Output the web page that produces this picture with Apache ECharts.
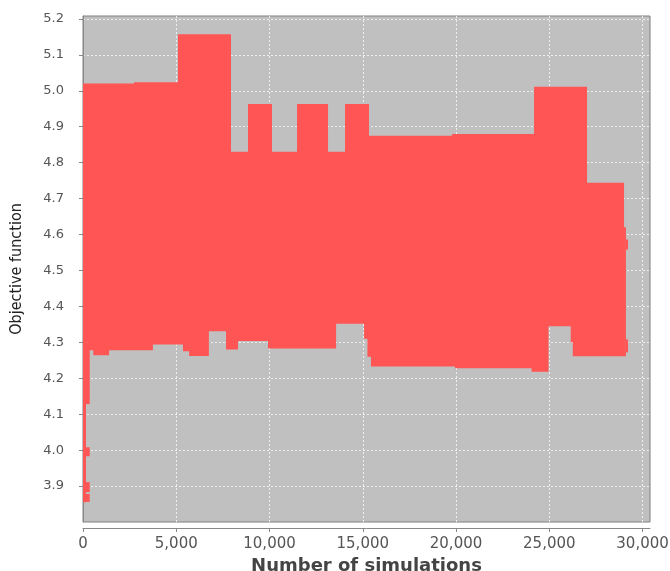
<!DOCTYPE html>
<html>
<head>
<meta charset="utf-8">
<script src="https://cdn.jsdelivr.net/npm/echarts@6/dist/echarts.min.js"></script>
<style>html,body{margin:0;padding:0;background:#fff}#c{width:670px;height:571px}</style>
</head>
<body>
<div id="c"></div>
<script>
// Upper envelope: breakpoints (number of simulations) and value held until next breakpoint
const upperX = [0, 2735, 5094, 7936, 8847, 10134, 11475, 13137, 14048, 15335, 19786, 24183, 27025, 29008];
const upperV = [5.020, 5.024, 5.157, 4.830, 4.963, 4.830, 4.963, 4.830, 4.963, 4.875, 4.880, 5.011, 4.744];
// Lower envelope
const lowerX = [0, 160, 240, 550, 1400, 3750, 5360, 5690, 6750, 7670, 8310, 9920, 13570, 15070, 15250, 15440, 19946, 24050, 24960, 26150, 26260, 29008];
const lowerV = [3.855, 4.300, 4.278, 4.264, 4.278, 4.294, 4.275, 4.262, 4.331, 4.280, 4.304, 4.283, 4.352, 4.310, 4.260, 4.233, 4.228, 4.218, 4.345, 4.300, 4.261];
// Isolated patches outside the main band: start, end, low, high
const patchStart = [160, 160, 160, 160, 29008, 29110, 29110];
const patchEnd   = [360, 360, 360, 360, 29110, 29223, 29223];
const patchLow   = [4.128, 3.983, 3.883, 3.856, 4.261, 4.558, 4.272];
const patchHigh  = [4.300, 4.008, 3.911, 3.878, 4.620, 4.586, 4.308];
// Tick values
const xTicks = [0, 5000, 10000, 15000, 20000, 25000, 30000];
const yTicks = [3.9, 4.0, 4.1, 4.2, 4.3, 4.4, 4.5, 4.6, 4.7, 4.8, 4.9, 5.0, 5.1, 5.2];

const RED = '#ff5555';
function steps(xs, vs) {
  const p = [];
  for (let i = 0; i < vs.length; i++) { p.push([xs[i], vs[i]]); p.push([xs[i + 1], vs[i]]); }
  return p;
}
const patches = patchStart.map((s, i) => [s, patchEnd[i], patchLow[i], patchHigh[i]]);

const chart = echarts.init(document.getElementById('c'), null, {renderer: 'canvas'});
const labelFont = {fontFamily: 'DejaVu Sans', color: '#555555'};
chart.setOption({
  animation: false,
  backgroundColor: '#ffffff',
  grid: {left: 83, right: 20, top: 16, bottom: 49, show: true, outerBoundsMode: 'none', containLabel: false,
         backgroundColor: '#c0c0c0', borderColor: '#808080', borderWidth: 1},
  xAxis: {
    type: 'value', min: 0, max: 30400, interval: 5000, offset: 6,
    name: 'Number of simulations', nameLocation: 'middle', nameGap: 22,
    nameTextStyle: {fontFamily: 'DejaVu Sans', fontWeight: 'bold', fontSize: 18, color: '#444444'},
    axisLine: {show: true, lineStyle: {color: '#888888'}},
    axisTick: {show: true, length: 4, lineStyle: {color: '#888888'}, customValues: xTicks},
    axisLabel: Object.assign({fontSize: 15, margin: 9, customValues: xTicks,
      formatter: v => Number(v).toLocaleString('en-US')}, labelFont),
    splitLine: {show: true, lineStyle: {color: '#eeeeee', type: [2, 2], width: 1}}
  },
  yAxis: {
    type: 'value', min: 3.8, max: 5.208, interval: 0.1, offset: 6,
    name: 'Objective function', nameLocation: 'middle', nameGap: 52, nameRotate: 90,
    nameTextStyle: {fontFamily: 'Liberation Sans Narrow, DejaVu Sans Condensed, sans-serif', fontSize: 16, color: '#222222'},
    axisLine: {show: true, lineStyle: {color: '#888888'}},
    axisTick: {show: true, length: 4, lineStyle: {color: '#888888'}, customValues: yTicks},
    axisLabel: Object.assign({fontSize: 13, margin: 13, customValues: yTicks,
      formatter: v => Number(v).toFixed(1)}, labelFont),
    splitLine: {show: true, lineStyle: {color: '#eeeeee', type: [2, 2], width: 1}}
  },
  series: [
    {
      type: 'custom', clip: true, silent: true,
      data: [[0]],
      renderItem: function (params, api) {
        const up = steps(upperX, upperV);
        const lo = steps(lowerX, lowerV).reverse();
        const pts = up.concat(lo).map(p => api.coord(p));
        return {type: 'polygon', shape: {points: pts}, style: {fill: RED}};
      }
    },
    {
      type: 'custom', clip: true, silent: true,
      data: patches,
      renderItem: function (params, api) {
        const a = api.coord([api.value(0), api.value(3)]);
        const b = api.coord([api.value(1), api.value(2)]);
        return {type: 'rect', shape: {x: a[0], y: a[1], width: b[0] - a[0], height: b[1] - a[1]}, style: {fill: RED}};
      }
    }
  ]
});
</script>
</body>
</html>
